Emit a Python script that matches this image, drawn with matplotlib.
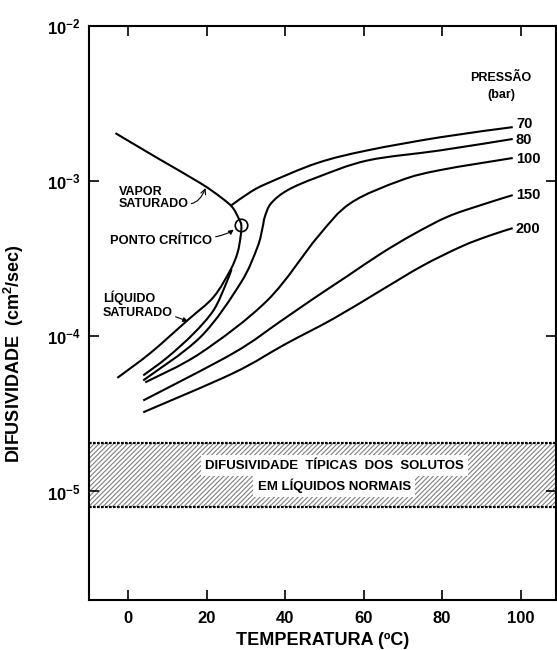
import numpy as np
import matplotlib
matplotlib.use("Agg")
import matplotlib.pyplot as plt
from matplotlib.path import Path
from matplotlib.patches import PathPatch, Rectangle
from matplotlib.ticker import NullLocator

plt.rcParams["font.family"] = ["Liberation Sans", "DejaVu Sans"]
plt.rcParams["font.weight"] = "bold"
plt.rcParams["mathtext.fontset"] = "custom"
plt.rcParams["mathtext.rm"] = "Liberation Sans:bold"
plt.rcParams["mathtext.bf"] = "Liberation Sans:bold"
plt.rcParams["mathtext.it"] = "Liberation Sans:bold"
plt.rcParams["hatch.linewidth"] = 0.8

# saturation dome (vapour branch -> critical point -> liquid branch)
sat_T = [-3.3, 7.4, 18.4, 23.5, 26.5, 28.1, 28.8, 28.6, 27.8, 26.0, 21.7,
         15.1, 5.6, -2.8]
sat_D = [2.04e-3, 1.41e-3, 9.7e-4, 7.9e-4, 6.8e-4, 5.77e-4, 5.2e-4, 4.36e-4,
         3.43e-4, 2.67e-4, 1.79e-4, 1.27e-4, 7.8e-5, 5.4e-5]
crit_T, crit_D = 28.8, 5.2e-4

# isobars, pressure in bar
p70_liq_T = [3.8, 9.9, 16.6, 21.7, 24.8, 26.3]
p70_liq_D = [5.6e-5, 7.3e-5, 1.04e-4, 1.47e-4, 2.15e-4, 2.7e-4]
p70_vap_T = [26.3, 31.1, 35.5, 48.2, 61.0, 79.6, 98.0]
p70_vap_D = [7.0e-4, 8.5e-4, 9.7e-4, 1.31e-3, 1.58e-3, 1.92e-3, 2.23e-3]
p80_T = [3.8, 18.4, 28.6, 32.9, 34.2, 34.8, 36.4, 40.6, 48.2, 61.0, 79.6, 98.0]
p80_D = [5.2e-5, 9.9e-5, 2.2e-4, 3.75e-4, 5.0e-4, 5.9e-4, 7.2e-4, 8.75e-4,
         1.06e-3, 1.36e-3, 1.58e-3, 1.87e-3]
p100_T = [4.3, 18.4, 35.5, 48.2, 56.6, 69.4, 79.6, 98.0]
p100_D = [5.05e-5, 7.8e-5, 1.71e-4, 4.35e-4, 7.2e-4, 1.01e-3, 1.18e-3, 1.41e-3]
p150_T = [3.8, 26.8, 38.8, 47.2, 55.9, 64.3, 72.7, 81.4, 89.8, 98.0]
p150_D = [3.86e-5, 7.8e-5, 1.25e-4, 1.75e-4, 2.45e-4, 3.4e-4, 4.55e-4,
          5.9e-4, 7.0e-4, 8.13e-4]
p200_T = [3.8, 26.8, 40.0, 52.3, 64.0, 75.0, 85.0, 92.0, 98.0]
p200_D = [3.24e-5, 5.8e-5, 8.9e-5, 1.3e-4, 1.95e-4, 2.85e-4, 3.8e-4, 4.45e-4,
          4.98e-4]

pressures = ["70", "80", "100", "150", "200"]
label_D = [2.35e-3, 1.85e-3, 1.38e-3, 8.1e-4, 4.9e-4]

# typical diffusivity of solutes in ordinary liquids
band_lo, band_hi = 8e-6, 2.05e-5

xticks = [0, 20, 40, 60, 80, 100]
yticks = [1e-5, 1e-4, 1e-3, 1e-2]
ytick_labels = [r"$10^{-5}$", r"$10^{-4}$", r"$10^{-3}$", r"$10^{-2}$"]


def smooth(ts, ds):
    # Catmull-Rom through the points in (T, log D), drawn as cubic beziers
    pts = np.column_stack([np.asarray(ts, float), np.log10(ds)])
    verts = [pts[0]]
    codes = [Path.MOVETO]
    n = len(pts)
    for i in range(n - 1):
        p0 = pts[i - 1] if i > 0 else pts[i]
        p1, p2 = pts[i], pts[i + 1]
        p3 = pts[i + 2] if i + 2 < n else pts[i + 1]
        verts += [p1 + (p2 - p0) / 6, p2 - (p3 - p1) / 6, p2]
        codes += [Path.CURVE4] * 3
    verts = np.array(verts)
    verts[:, 1] = 10 ** verts[:, 1]
    return Path(verts, codes)


fig = plt.figure(figsize=(5.57, 6.5), dpi=100)
ax = fig.add_axes([0.160, 0.077, 0.838, 0.883])
ax.set_yscale("log")
ax.set_xlim(-10, 109)
ax.set_ylim(2e-6, 1e-2)

ax.add_patch(Rectangle((-10, band_lo), 119, band_hi - band_lo, facecolor="white",
                       edgecolor="#808080", hatch="///////", linewidth=0, zorder=1))
ax.axhline(band_lo, color="black", lw=1.6, ls=(0, (1.2, 0.6)), zorder=2)
ax.axhline(band_hi, color="black", lw=1.6, ls=(0, (1.2, 0.6)), zorder=2)

for ts, ds in [(sat_T, sat_D), (p70_liq_T, p70_liq_D), (p70_vap_T, p70_vap_D),
               (p80_T, p80_D), (p100_T, p100_D), (p150_T, p150_D), (p200_T, p200_D)]:
    ax.add_patch(PathPatch(smooth(ts, ds), fill=False, edgecolor="black",
                           linewidth=1.5, zorder=3))

ax.plot([crit_T], [crit_D], marker="o", ms=9, mfc="none", mec="black", mew=1.2,
        zorder=4)

for p, d in zip(pressures, label_D):
    ax.text(98.8, d, p, fontsize=10.5, fontweight="bold", va="center", ha="left")
ax.text(95.0, 4.63e-3, "PRESSÃO", fontsize=9, fontweight="bold", ha="center",
        va="center")
ax.text(95.0, 3.59e-3, "(bar)", fontsize=9, fontweight="bold", ha="center",
        va="center")

ax.annotate("VAPOR\nSATURADO", xy=(19.8, 9.2e-4), xytext=(-2.5, 7.8e-4),
            fontsize=9, fontweight="bold", ha="left", va="center",
            linespacing=1.0,
            arrowprops=dict(arrowstyle="->", lw=0.8, color="black",
                            shrinkA=0, shrinkB=1,
                            connectionstyle="angle3,angleA=0,angleB=70",
                            relpos=(1.0, 0.25)))
ax.annotate("PONTO CRÍTICO", xy=(27.4, 5.0e-4), xytext=(-4.8, 4.1e-4),
            fontsize=9.3, fontweight="bold", ha="left", va="center",
            arrowprops=dict(arrowstyle="-|>", lw=0.8, color="black",
                            mutation_scale=7, shrinkA=1, shrinkB=2,
                            connectionstyle="angle3,angleA=0,angleB=45"))
ax.annotate("LÍQUIDO\nSATURADO", xy=(15.2, 1.25e-4), xytext=(-6.5, 1.6e-4),
            fontsize=9, fontweight="bold", ha="left", va="center",
            linespacing=1.15,
            arrowprops=dict(arrowstyle="-|>", lw=0.8, color="black",
                            mutation_scale=7, shrinkA=0, shrinkB=0,
                            relpos=(1.0, 0.1)))

ax.text(52.5, 1.47e-5, "DIFUSIVIDADE  TÍPICAS  DOS  SOLUTOS", fontsize=9.5,
        fontweight="bold", ha="center", va="center", zorder=5,
        bbox=dict(facecolor="white", edgecolor="none", pad=3))
ax.text(52.5, 1.09e-5, "EM LÍQUIDOS NORMAIS", fontsize=9.5,
        fontweight="bold", ha="center", va="center", zorder=5,
        bbox=dict(facecolor="white", edgecolor="none", pad=3))

ax.set_xticks(xticks)
ax.set_xticklabels([str(t) for t in xticks], fontsize=12, fontweight="bold")
ax.set_yticks(yticks)
ax.set_yticklabels(ytick_labels, fontsize=12)
ax.yaxis.set_minor_locator(NullLocator())
ax.tick_params(which="major", direction="in", length=7, width=1.2,
               top=True, right=True)
ax.tick_params(axis="x", pad=8)
ax.tick_params(axis="y", pad=6)
for s in ax.spines.values():
    s.set_linewidth(1.5)

ax.set_xlabel("TEMPERATURA (ºC)", fontsize=13, fontweight="bold", labelpad=4)
ax.set_ylabel(r"DIFUSIVIDADE  (cm$^2$/sec)", fontsize=13, fontweight="bold")
ax.yaxis.set_label_coords(-0.135, 0.43)

fig.savefig("out.png", dpi=100)
